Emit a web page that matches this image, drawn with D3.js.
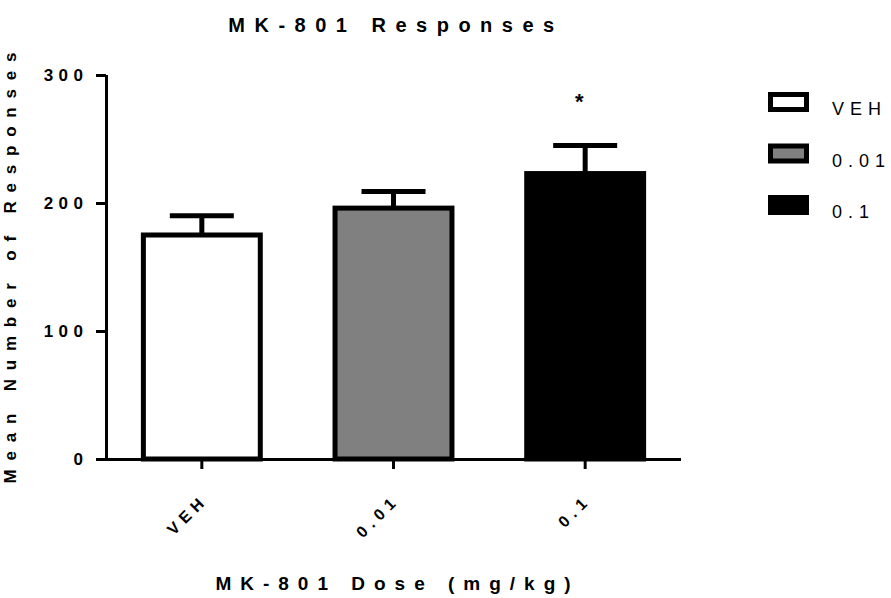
<!DOCTYPE html>
<html lang="en">
<head>
  <meta charset="UTF-8">
  <title>MK-801 Responses</title>
  <script src="https://d3js.org/d3.v7.min.js"></script>
  <style>
    body { margin: 0; background: #fff; }
    text { font-family: "Liberation Sans", Arial, sans-serif; fill: #000; }
    .bold { font-weight: bold; }
  </style>
</head>
<body>
  <svg id="chart" width="891" height="598"></svg>

  <script>
    // data
    const categories = ["VEH", "0.01", "0.1"];
    const means = [175, 196, 223];
    const sems = [15, 13, 22];
    const fills = ["#ffffff", "#808080", "#000000"];
    const yTicks = [0, 100, 200, 300];
    const starred = ["0.1"];

    const svg = d3.select("#chart");

    const x = d3.scaleBand()
      .domain(categories)
      .range([106, 681])
      .paddingInner(0.39)
      .paddingOuter(0.195);

    const y = d3.scaleLinear()
      .domain([0, 300])
      .range([459, 75]);

    const rows = categories.map((c, i) => ({ cat: c, mean: means[i], sem: sems[i], fill: fills[i] }));

    // bars
    svg.selectAll(".bar")
      .data(rows)
      .enter()
      .append("rect")
      .attr("class", "bar")
      .attr("x", d => x(d.cat))
      .attr("y", d => y(d.mean))
      .attr("width", x.bandwidth())
      .attr("height", d => y(0) - y(d.mean))
      .attr("fill", d => d.fill)
      .attr("stroke", "#000")
      .attr("stroke-width", 5);

    // error bars (upper only)
    const err = svg.selectAll(".err")
      .data(rows)
      .enter()
      .append("g")
      .attr("class", "err")
      .attr("stroke", "#000")
      .attr("stroke-width", 5);

    err.append("line")
      .attr("x1", d => x(d.cat) + x.bandwidth() / 2)
      .attr("x2", d => x(d.cat) + x.bandwidth() / 2)
      .attr("y1", d => y(d.mean))
      .attr("y2", d => y(d.mean + d.sem));

    err.append("line")
      .attr("x1", d => x(d.cat) + x.bandwidth() / 2 - 32)
      .attr("x2", d => x(d.cat) + x.bandwidth() / 2 + 32)
      .attr("y1", d => y(d.mean + d.sem))
      .attr("y2", d => y(d.mean + d.sem));

    // significance marker
    svg.selectAll(".star")
      .data(rows.filter(d => starred.includes(d.cat)))
      .enter()
      .append("text")
      .attr("class", "bold")
      .attr("x", d => x(d.cat) + x.bandwidth() / 2 - 6)
      .attr("y", 109)
      .attr("text-anchor", "middle")
      .attr("font-size", 22)
      .text("*");

    // y axis
    const yAxis = svg.append("g")
      .attr("transform", "translate(106,0)")
      .call(d3.axisLeft(y).tickValues(yTicks).tickSize(10).tickPadding(13));

    // x axis
    const xAxis = svg.append("g")
      .attr("transform", "translate(0,459)")
      .call(d3.axisBottom(x).tickSize(10).tickSizeOuter(0));

    [yAxis, xAxis].forEach(a => {
      a.select(".domain").attr("stroke", "#000").attr("stroke-width", 3);
      a.selectAll(".tick line").attr("stroke", "#000").attr("stroke-width", 3);
    });
    xAxis.select(".domain").attr("d", "M104.5,0.5H681");
    yAxis.select(".domain").attr("d", "M0.5,75V460.5");

    yAxis.selectAll(".tick text")
      .attr("class", "bold")
      .attr("font-size", 17)
      .attr("letter-spacing", 5.5)
      .attr("dx", 5.5)
      .attr("fill", "#000");

    xAxis.selectAll(".tick text")
      .attr("class", "bold")
      .attr("font-size", 16)
      .attr("letter-spacing", 5.5)
      .attr("text-anchor", "end")
      .attr("x", 0)
      .attr("y", 0)
      .attr("dy", 0)
      .attr("dx", 5.5)
      .attr("transform", "translate(3,46) rotate(-45)")
      .attr("fill", "#000");

    // title
    svg.append("text")
      .attr("class", "bold")
      .attr("x", 391 + 5)
      .attr("y", 32)
      .attr("text-anchor", "middle")
      .attr("font-size", 20)
      .attr("letter-spacing", 9.5)
      .text("MK-801 Responses");

    // x axis title
    svg.append("text")
      .attr("class", "bold")
      .attr("x", 393 + 4.5)
      .attr("y", 590)
      .attr("text-anchor", "middle")
      .attr("font-size", 19)
      .attr("letter-spacing", 9)
      .text("MK-801 Dose (mg/kg)");

    // y axis title
    svg.append("text")
      .attr("class", "bold")
      .attr("transform", "translate(16,268) rotate(-90)")
      .attr("dx", 4.4)
      .attr("text-anchor", "middle")
      .attr("font-size", 17)
      .attr("letter-spacing", 8.8)
      .text("Mean Number of Responses");

    // legend
    const legend = svg.selectAll(".legend")
      .data(rows)
      .enter()
      .append("g")
      .attr("class", "legend")
      .attr("transform", (d, i) => `translate(768,${92 + i * 51.5})`);

    legend.append("rect")
      .attr("x", 2.5)
      .attr("y", 2.5)
      .attr("width", 36)
      .attr("height", 15)
      .attr("fill", d => d.fill)
      .attr("stroke", "#000")
      .attr("stroke-width", 5);

    legend.append("text")
      .attr("x", 64)
      .attr("y", 23)
      .attr("font-size", 18)
      .attr("letter-spacing", 6)
      .text(d => d.cat);
  </script>
</body>
</html>
